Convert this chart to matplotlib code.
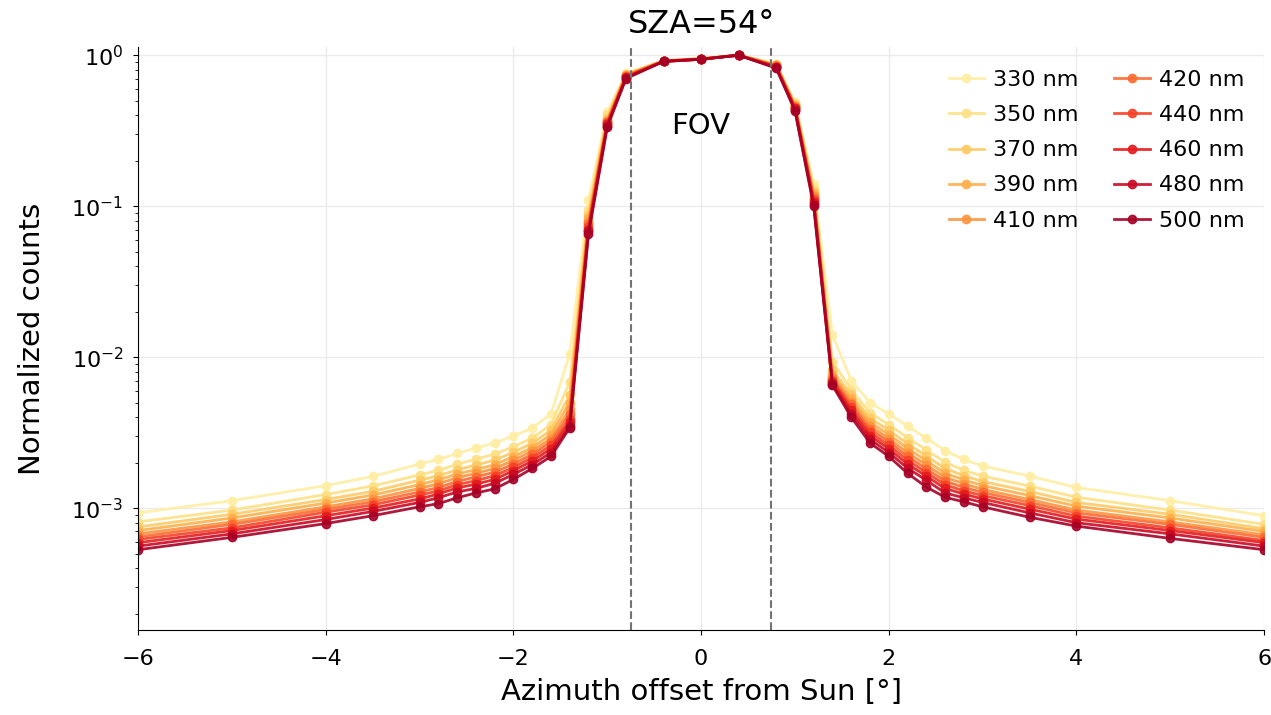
import numpy as np
import matplotlib
matplotlib.use("Agg")
import matplotlib.pyplot as plt

# azimuth offsets of the scan [deg]
azimuth = [-6, -5, -4, -3.5, -3, -2.8, -2.6, -2.4, -2.2, -2, -1.8, -1.6, -1.4, -1.2, -1.0, -0.8,
           -0.4, 0, 0.4, 0.8, 1.0, 1.2, 1.4, 1.6, 1.8, 2, 2.2, 2.4, 2.6, 2.8, 3, 3.5, 4, 5, 6]

wavelengths = [330, 350, 370, 390, 410, 420, 440, 460, 480, 500]

# normalized counts, in units of 1e-3
counts_330 = [0.93, 1.12, 1.41, 1.62, 1.96, 2.10, 2.30, 2.50, 2.70, 3.00, 3.40, 4.20, 10.5, 110, 420, 760, 920, 950, 1000,
              880, 490, 140, 14.0, 7.00, 5.00, 4.20, 3.50, 2.90, 2.40, 2.10, 1.90, 1.63, 1.37, 1.12, 0.89]
counts_350 = [0.81, 0.97, 1.23, 1.40, 1.66, 1.78, 1.95, 2.11, 2.28, 2.55, 2.91, 3.57, 6.8, 95, 400, 750, 920, 950, 1000,
              870, 480, 130, 9.3, 6.08, 4.28, 3.57, 2.93, 2.43, 2.01, 1.78, 1.63, 1.40, 1.18, 0.97, 0.78]
counts_370 = [0.75, 0.91, 1.14, 1.29, 1.53, 1.64, 1.79, 1.93, 2.08, 2.34, 2.69, 3.28, 5.6, 88, 385, 745, 920, 950, 1000,
              865, 470, 125, 8.2, 5.66, 3.95, 3.28, 2.67, 2.21, 1.83, 1.64, 1.50, 1.29, 1.09, 0.91, 0.73]
counts_390 = [0.71, 0.86, 1.08, 1.22, 1.43, 1.54, 1.68, 1.80, 1.94, 2.19, 2.52, 3.07, 5.0, 83, 375, 740, 915, 945, 1000,
              860, 465, 120, 7.7, 5.35, 3.71, 3.07, 2.49, 2.06, 1.70, 1.54, 1.41, 1.21, 1.03, 0.86, 0.70]
counts_410 = [0.675, 0.81, 1.02, 1.15, 1.35, 1.45, 1.59, 1.70, 1.83, 2.07, 2.39, 2.89, 4.5, 79, 365, 735, 915, 945, 1000,
              855, 460, 117, 7.4, 5.08, 3.51, 2.89, 2.33, 1.93, 1.60, 1.45, 1.33, 1.14, 0.97, 0.81, 0.665]
counts_420 = [0.645, 0.78, 0.98, 1.10, 1.28, 1.37, 1.50, 1.61, 1.73, 1.96, 2.27, 2.75, 4.2, 76, 360, 730, 915, 945, 1000,
              850, 455, 113, 7.2, 4.86, 3.34, 2.75, 2.20, 1.82, 1.51, 1.37, 1.27, 1.09, 0.93, 0.78, 0.64]
counts_440 = [0.62, 0.74, 0.94, 1.05, 1.22, 1.30, 1.43, 1.52, 1.64, 1.86, 2.16, 2.60, 3.9, 73, 355, 720, 910, 940, 1000,
              840, 450, 110, 7.0, 4.65, 3.18, 2.60, 2.08, 1.72, 1.43, 1.30, 1.21, 1.04, 0.885, 0.74, 0.61]
counts_460 = [0.59, 0.71, 0.89, 1.00, 1.15, 1.24, 1.36, 1.44, 1.55, 1.77, 2.05, 2.47, 3.7, 70, 348, 715, 910, 940, 1000,
              835, 445, 107, 6.8, 4.44, 3.02, 2.47, 1.96, 1.63, 1.35, 1.24, 1.15, 0.985, 0.845, 0.71, 0.59]
counts_480 = [0.56, 0.675, 0.84, 0.95, 1.09, 1.17, 1.28, 1.35, 1.46, 1.67, 1.94, 2.33, 3.5, 68, 340, 710, 910, 940, 1000,
              830, 435, 103, 6.6, 4.22, 2.86, 2.33, 1.84, 1.53, 1.26, 1.17, 1.09, 0.93, 0.80, 0.675, 0.56]
counts_500 = [0.53, 0.64, 0.79, 0.89, 1.02, 1.07, 1.17, 1.26, 1.34, 1.55, 1.83, 2.20, 3.4, 65, 335, 700, 910, 940, 1000,
              820, 430, 100, 6.5, 4.00, 2.70, 2.20, 1.70, 1.38, 1.18, 1.10, 1.02, 0.87, 0.76, 0.63, 0.53]

all_counts = [counts_330, counts_350, counts_370, counts_390, counts_410,
              counts_420, counts_440, counts_460, counts_480, counts_500]

fov_half = 0.75

fig = plt.figure(figsize=(12.71, 7.15), dpi=100)
ax = fig.add_axes([0.1086, 0.119, 0.886, 0.815])

colors = plt.cm.YlOrRd(np.linspace(0.12, 0.92, len(wavelengths)))
for wl, cnt, c in zip(wavelengths, all_counts, colors):
    ax.plot(azimuth, np.array(cnt) * 1e-3, "-o", color=c, lw=2, ms=6, alpha=0.9, label=f"{wl} nm")

for xv in (-fov_half, fov_half):
    ax.axvline(xv, color="0.45", ls="--", lw=1.5)
ax.text(0, 0.34, "FOV", ha="center", va="center", fontsize=21)

ax.set_yscale("log")
ax.set_xlim(-6, 6)
ax.set_ylim(1.56e-4, 1.13)
ax.set_xticks([-6, -4, -2, 0, 2, 4, 6])
ax.grid(True, which="major", color="0.92", lw=1)
ax.set_axisbelow(True)
ax.spines["top"].set_visible(False)
ax.spines["right"].set_visible(False)
ax.tick_params(labelsize=16)
ax.tick_params(axis="x", pad=10)
ax.tick_params(axis="y", pad=7)

ax.set_xlabel("Azimuth offset from Sun [°]", fontsize=21, labelpad=7)
ax.set_ylabel("Normalized counts", fontsize=21, labelpad=18)
ax.set_title("SZA=54°", fontsize=23, pad=10)

ax.legend(ncol=2, frameon=False, fontsize=16, loc="upper right", bbox_to_anchor=(1.0, 0.995),
          columnspacing=1.6, handlelength=1.6, handletextpad=0.4, labelspacing=0.68)

fig.savefig("out.png", dpi=100)
